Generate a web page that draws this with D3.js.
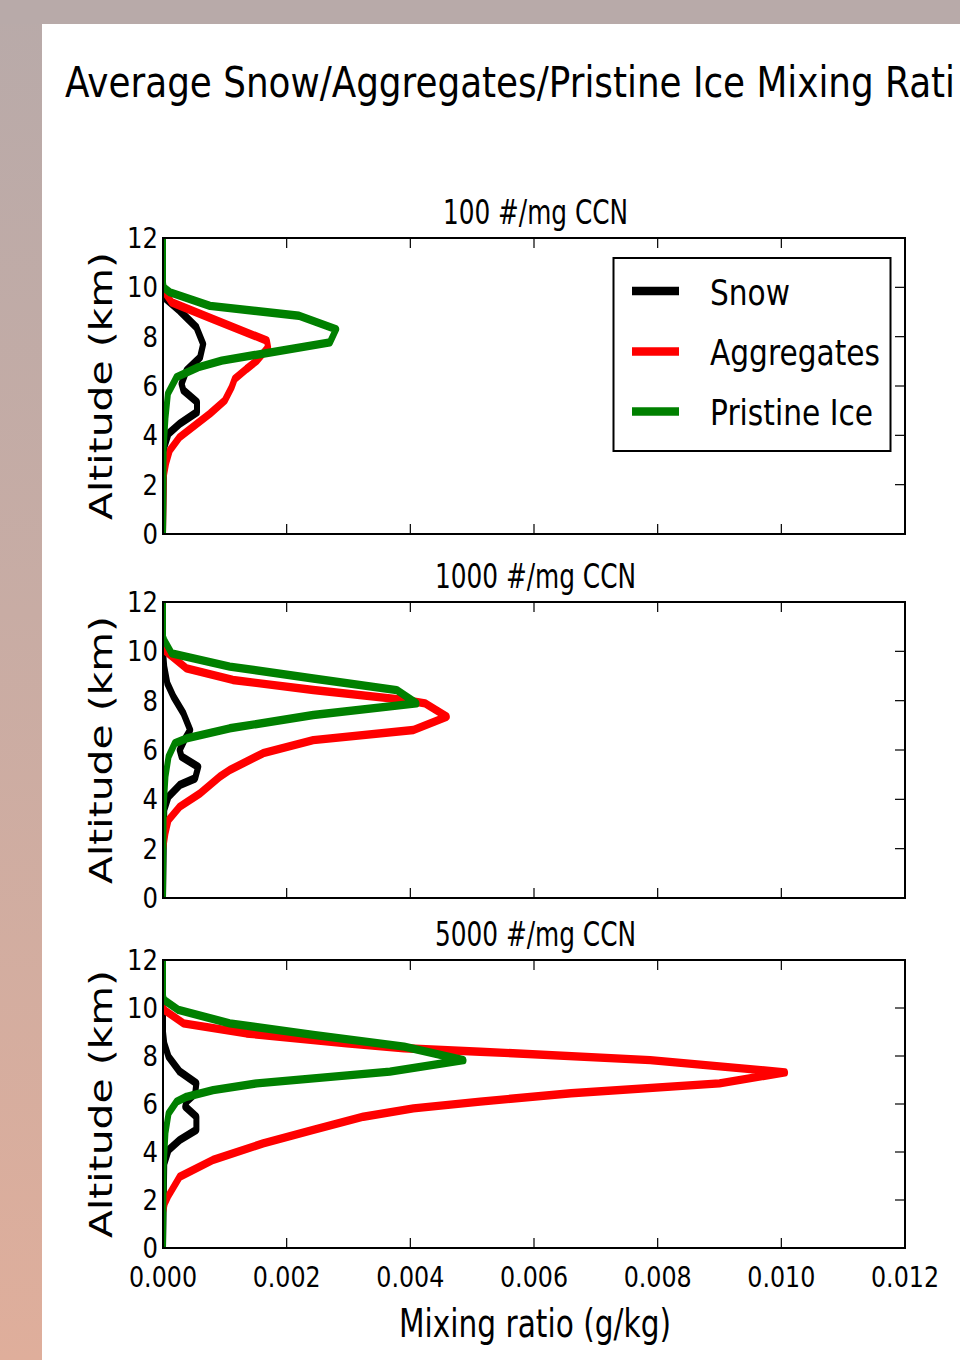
<!DOCTYPE html>
<html><head><meta charset="utf-8">
<script src="https://cdn.jsdelivr.net/npm/d3@7"></script>
<style>body{margin:0;background:#fff;} svg{display:block;font-family:"DejaVu Sans",sans-serif;}</style>
</head><body><svg id="c" width="960" height="1360"></svg>
<script>
// ---------- data ----------
const xTicks = [0, 0.002, 0.004, 0.006, 0.008, 0.010, 0.012];
const xTickLabels = ["0.000","0.002","0.004","0.006","0.008","0.010","0.012"];
const yTicks = [0, 2, 4, 6, 8, 10, 12];
const seriesNames = ["Snow", "Aggregates", "Pristine Ice"];
const panelTitles = ["100 #/mg CCN", "1000 #/mg CCN", "5000 #/mg CCN"];
const chartTitle = "Average Snow/Aggregates/Pristine Ice Mixing Rati";
const xLabel = "Mixing ratio (g/kg)";
const yLabel = "Altitude (km)";

// [altitude km, mixing ratio g/kg]
const snow100 = [[0,0],[3.5,0.00002],[4.07,0.00009],[4.47,0.00027],[4.94,0.00055],[5.35,0.00055],[5.82,0.00033],[6.09,0.0003],[6.63,0.00038],[7.16,0.0006],[7.7,0.00065],[8.38,0.00054],[9.05,0.00027],[9.59,0.00002],[10,0],[12,0]];
const aggr100 = [[0,0],[2.3,0.00001],[2.86,0.00005],[3.39,0.00011],[3.93,0.00027],[4.88,0.00076],[5.41,0.001],[5.95,0.00111],[6.29,0.00116],[6.69,0.00135],[7.03,0.00152],[7.57,0.0017],[7.84,0.00168],[8.71,0.00081],[9.39,0.00014],[9.8,0.00003],[10.1,0],[12,0]];
const ice100 = [[0,0],[3.5,0.00001],[4.7,0.00004],[5.7,0.00008],[6.36,0.00022],[6.76,0.00057],[7.03,0.00095],[7.77,0.0027],[8.3,0.0028],[8.85,0.0022],[9.25,0.00076],[9.8,0.00011],[10.0,0.00001],[10.2,0],[12,0]];

const snow1000 = [[0,0],[3.57,0.00002],[4.11,0.00009],[4.58,0.00027],[4.85,0.00052],[5.32,0.00057],[5.73,0.0003],[6.0,0.00027],[6.47,0.00036],[6.81,0.00044],[7.49,0.00033],[8.16,0.00017],[8.7,0.00007],[9.38,0.00002],[10,0],[12,0]];
const aggr1000 = [[0,0],[1.95,0],[2.62,0.00004],[3.16,0.00009],[3.7,0.00027],[4.24,0.0006],[4.92,0.00092],[5.19,0.00108],[5.87,0.00162],[6.4,0.00243],[6.81,0.00405],[7.35,0.00459],[7.89,0.00424],[8.03,0.0039],[8.43,0.00243],[8.84,0.00113],[9.31,0.00038],[10.05,0.00002],[10.2,0],[12,0]];
const ice1000 = [[0,0],[3.7,0.00001],[4.92,0.00004],[5.73,0.00009],[6.27,0.00019],[6.47,0.00038],[6.88,0.00108],[7.42,0.00243],[7.89,0.0041],[8.43,0.00378],[8.9,0.00243],[9.38,0.00108],[9.92,0.00014],[10.46,0.00002],[10.6,0],[12,0]];

const snow5000 = [[0,0],[3.5,0.00002],[4.08,0.00009],[4.5,0.00027],[4.92,0.00054],[5.47,0.00054],[5.89,0.00036],[6.1,0.00038],[6.44,0.00052],[6.86,0.00054],[7.35,0.00027],[7.97,0.00009],[8.53,0.00002],[9,0],[12,0]];
const aggr5000 = [[0,0],[1.5,0],[1.86,0.00003],[2.14,0.00008],[2.97,0.00027],[3.67,0.00081],[4.36,0.00162],[4.92,0.00243],[5.47,0.00324],[5.82,0.00405],[6.1,0.00513],[6.45,0.0066],[6.86,0.009],[7.32,0.01006],[7.83,0.00788],[8.18,0.00513],[8.32,0.0039],[8.53,0.00297],[8.94,0.00135],[9.36,0.00033],[9.92,0.00002],[10.1,0],[12,0]];
const ice5000 = [[0,0],[3.4,0.00001],[4.8,0.00004],[5.61,0.00009],[6.1,0.00022],[6.3,0.00038],[6.58,0.00081],[6.86,0.00152],[7.35,0.00367],[7.83,0.00486],[8.39,0.0039],[8.88,0.00243],[9.36,0.00108],[9.92,0.00025],[10.33,0.00002],[10.5,0],[12,0]];

const panelData = [[snow100, aggr100, ice100],[snow1000, aggr1000, ice1000],[snow5000, aggr5000, ice5000]];

// ---------- layout / style ----------
const colors = ["#000000", "#ff0000", "#008000"];
const panels = [{top:238,bottom:534},{top:602,bottom:898},{top:960,bottom:1248}];
const plotLeft = 163, plotRight = 905;
const K = 1.4, LW = 6;

const svg = d3.select("#c");
const defs = svg.append("defs");
const grad = defs.append("linearGradient").attr("id","bg").attr("x1",0).attr("y1",0).attr("x2",0).attr("y2",1);
grad.append("stop").attr("offset","0%").attr("stop-color","#b8aaa9");
grad.append("stop").attr("offset","45%").attr("stop-color","#c8aca4");
grad.append("stop").attr("offset","100%").attr("stop-color","#dfae9b");
svg.append("rect").attr("x",0).attr("y",0).attr("width",960).attr("height",1360).attr("fill","url(#bg)");
svg.append("rect").attr("x",0).attr("y",0).attr("width",960).attr("height",24).attr("fill","#b8aaa9");
svg.append("rect").attr("x",42).attr("y",24).attr("width",918).attr("height",1336).attr("fill","#ffffff");

function fit(sel, len){ sel.attr("textLength", len).attr("lengthAdjust","spacingAndGlyphs"); return sel; }
function squeeze(sel, f){ sel.each(function(){ const L=this.getComputedTextLength(); d3.select(this).attr("textLength",L*f).attr("lengthAdjust","spacingAndGlyphs"); }); return sel; }

// title
fit(svg.append("text").attr("x",65).attr("y",97).attr("font-size",43.5).attr("fill","#000").text(chartTitle), 890);

const x = d3.scaleLinear().domain([0,0.012]).range([plotLeft, plotRight]);

panels.forEach((p, i) => {
  const h = p.bottom - p.top;
  const y = d3.scaleLinear().domain([0,12]).range([p.bottom, p.top]);
  const ys = d3.scaleLinear().domain([0,12]).range([h / K, 0]);
  const cid = "clip" + i;
  defs.append("clipPath").attr("id", cid).append("rect")
    .attr("x", plotLeft).attr("y", p.top).attr("width", plotRight - plotLeft).attr("height", h);

  const g = svg.append("g");
  const lines = g.append("g").attr("clip-path", `url(#${cid})`)
    .append("g").attr("transform", `translate(0,${p.top}) scale(1,${K})`);
  const line = d3.line().x(d => x(d[1])).y(d => ys(d[0]));
  panelData[i].forEach((s, k) => {
    lines.append("path").attr("d", line(s)).attr("fill","none")
      .attr("stroke", colors[k]).attr("stroke-width", LW)
      .attr("stroke-linejoin","round").attr("stroke-linecap","round");
  });

  // ticks (top, bottom, right)
  const tk = g.append("g").attr("stroke","#000").attr("stroke-width",1.2);
  xTicks.forEach(t => {
    tk.append("line").attr("x1",x(t)).attr("x2",x(t)).attr("y1",p.top).attr("y2",p.top+10);
    tk.append("line").attr("x1",x(t)).attr("x2",x(t)).attr("y1",p.bottom).attr("y2",p.bottom-10);
  });
  yTicks.forEach(t => {
    tk.append("line").attr("x1",plotRight).attr("x2",plotRight-10).attr("y1",y(t)).attr("y2",y(t));
  });
  // frame
  g.append("rect").attr("x",plotLeft).attr("y",p.top).attr("width",plotRight-plotLeft).attr("height",h)
    .attr("fill","none").attr("stroke","#000").attr("stroke-width",2);

  // y tick labels
  const yl = g.selectAll(".yt").data(yTicks).enter().append("text")
    .attr("x",158).attr("y",d => y(d)+10).attr("text-anchor","end").attr("font-size",28)
    .text(d => d3.format("d")(d));
  squeeze(yl, 0.87);

  // subplot title
  fit(g.append("text").attr("x",535.5).attr("y",p.top-14).attr("text-anchor","middle").attr("font-size",34)
     .text(panelTitles[i]), i === 0 ? 185 : 201);

  // y label
  const cy = (p.top + p.bottom) / 2;
  fit(g.append("text").attr("transform",`translate(112,${cy}) rotate(-90)`).attr("text-anchor","middle")
     .attr("font-size",32).text(yLabel), 268);

  if (i === 2) {
    g.selectAll(".xt").data(xTicks).enter().append("text")
      .attr("x",d => x(d)).attr("y",1287).attr("text-anchor","middle").attr("font-size",29)
      .attr("textLength",68).attr("lengthAdjust","spacingAndGlyphs")
      .text((d,j) => xTickLabels[j]);
    fit(g.append("text").attr("x",535).attr("y",1337).attr("text-anchor","middle").attr("font-size",39).text(xLabel), 272);
  }

  if (i === 0) {
    const lg = g.append("g");
    lg.append("rect").attr("x",613.5).attr("y",258).attr("width",277).attr("height",193)
      .attr("fill","#fff").attr("stroke","#000").attr("stroke-width",2);
    const rowsY = [291, 351.5, 411.5];
    const baseY = [305, 365, 425];
    const lens = [80, 170, 163];
    seriesNames.forEach((n, k) => {
      lg.append("line").attr("x1",632).attr("x2",679).attr("y1",rowsY[k]).attr("y2",rowsY[k])
        .attr("stroke",colors[k]).attr("stroke-width",LW*K);
      fit(lg.append("text").attr("x",710).attr("y",baseY[k]).attr("font-size",36).text(n), lens[k]);
    });
  }
});
</script></body></html>
